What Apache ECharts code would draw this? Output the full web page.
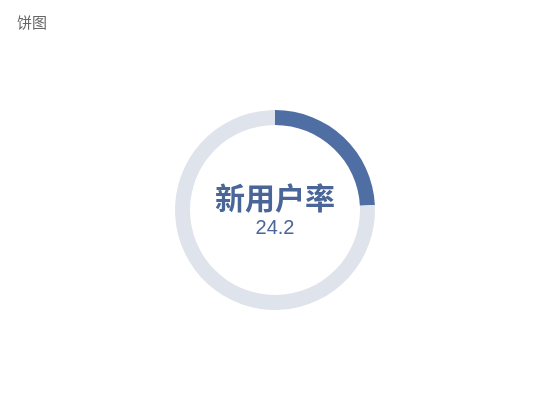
<!DOCTYPE html>
<html><head><meta charset="utf-8">
<script src="https://cdn.jsdelivr.net/npm/echarts@6/dist/echarts.min.js"></script>
<style>html,body{margin:0;padding:0;background:#fff}#c{width:550px;height:420px}</style>
</head><body><div id="c"></div>
<script>
const chartTitle = '饼图';
const metricName = '新用户率';
const metricValue = 24.2;
const totalValue = 100;

const chart = echarts.init(document.getElementById('c'));
chart.setOption({
  animation: false,
  title: {
    text: chartTitle, left: 12, top: 10,
    textStyle: { fontSize: 15, fontWeight: 'normal', color: '#666', fontFamily: 'Noto Sans CJK SC' }
  },
  series: [{
    type: 'pie',
    center: ['50%', '50%'],
    radius: [85, 100],
    startAngle: 90,
    clockwise: true,
    silent: true,
    emphasis: { disabled: true },
    labelLine: { show: false },
    data: [
      {
        value: metricValue, name: metricName,
        itemStyle: { color: '#4f6ea4' },
        label: {
          show: true, position: 'center',
          formatter: '{a|{b}}\n{b|{c}}',
          rich: {
            a: { fontSize: 30, fontWeight: 'bold', color: '#4a6699', fontFamily: 'Noto Sans CJK SC', lineHeight: 36 },
            b: { fontSize: 20, color: '#4a6699', fontFamily: 'Liberation Sans', lineHeight: 24 }
          }
        }
      },
      {
        value: totalValue - metricValue, name: '',
        itemStyle: { color: '#dfe3eb' },
        label: { show: false }
      }
    ]
  }]
});
</script></body></html>
